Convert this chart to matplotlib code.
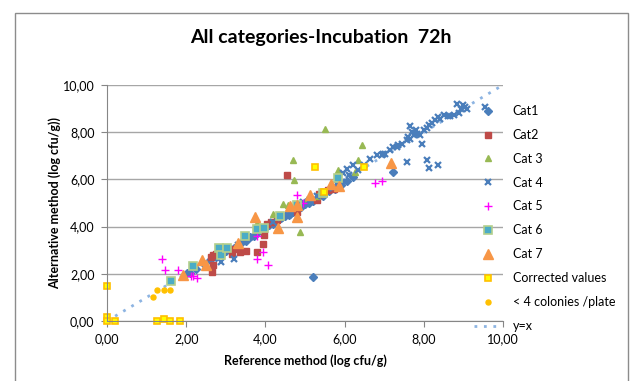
import matplotlib
matplotlib.use("Agg")
import matplotlib.pyplot as plt
from matplotlib.patches import Rectangle

plt.rcParams['font.family'] = ['Lato', 'DejaVu Sans']

# ---- data (log cfu/g): reference (x) vs alternative (y) ----
cat1_x = [2.02, 2.1, 2.25, 2.45, 2.6, 2.75, 2.9, 3.0, 3.1, 3.2, 3.3, 3.4, 3.5, 3.6, 3.7, 3.8, 3.9, 4.0,
          4.1, 4.2, 4.3, 4.4, 4.5, 4.6, 4.7, 4.8, 4.9, 5.0, 5.1, 5.2, 5.3, 5.45, 5.6, 5.75, 5.9, 6.05,
          6.2, 5.21, 7.23]
cat1_y = [2.02, 2.05, 2.2, 2.4, 2.6, 2.7, 2.85, 2.95, 3.05, 3.1, 3.2, 3.35, 3.4, 3.55, 3.6, 3.75, 3.85,
          3.95, 4.05, 4.1, 4.25, 4.35, 4.45, 4.5, 4.6, 4.75, 4.85, 4.95, 5.0, 5.1, 5.2, 5.3, 5.5, 5.6,
          5.75, 5.95, 6.1, 1.85, 6.31]

cat2_x = [2.64, 2.68, 2.62, 2.68, 2.75, 3.15, 3.19, 3.36, 3.51, 3.78, 3.95, 3.96, 4.05, 4.15, 4.55,
          4.8, 5.3, 5.36, 5.45, 5.59, 5.72, 4.3]
cat2_y = [2.08, 2.36, 2.71, 2.81, 2.85, 2.85, 3.07, 2.92, 2.95, 2.92, 3.28, 3.63, 4.13, 4.2, 6.17,
          4.62, 5.11, 5.4, 5.45, 5.54, 5.61, 4.3]

cat3_x = [3.8, 4.2, 4.45, 4.58, 4.69, 4.73, 4.87, 5.05, 5.51, 5.84, 6.26, 6.33, 6.43, 5.3]
cat3_y = [4.17, 4.55, 4.94, 4.93, 6.81, 5.96, 3.77, 5.15, 8.15, 6.41, 6.31, 6.81, 7.44, 5.3]

cat4_x = [2.88, 3.21, 3.3, 3.6, 4.2, 4.4, 4.6, 4.96, 5.1, 5.3, 5.5, 5.7, 5.8, 5.93, 5.97, 6.05, 6.1,
          6.22, 6.35, 6.5, 6.64, 6.81, 6.94, 6.98, 7.02, 7.15, 7.23, 7.32, 7.36, 7.45, 7.57, 7.6, 7.66,
          7.7, 7.74, 7.84, 7.91, 7.95, 7.66, 7.8, 8.0, 8.08, 8.12, 8.2, 8.29, 8.37, 8.41, 8.5, 8.6,
          8.67, 8.75, 8.84, 8.9, 8.95, 9.0, 9.05, 9.1, 9.55, 7.57, 8.08, 8.12, 8.37]
cat4_y = [2.5, 2.64, 3.2, 3.55, 4.2, 4.35, 4.5, 5.04, 5.1, 5.3, 5.45, 5.65, 5.8, 5.89, 6.25, 6.46, 6.17,
          6.6, 6.38, 6.6, 6.88, 7.02, 7.02, 7.09, 7.09, 7.23, 7.37, 7.37, 7.44, 7.5, 7.66, 7.8, 7.73,
          8.0, 7.87, 7.94, 7.87, 7.52, 8.26, 8.1, 8.1, 8.18, 8.29, 8.4, 8.5, 8.64, 8.57, 8.72, 8.7,
          8.69, 8.72, 9.21, 8.8, 9.0, 9.15, 9.07, 9.0, 9.07, 6.74, 6.81, 6.48, 6.6]

cat5_x = [1.38, 1.46, 1.8, 2.13, 2.16, 2.28, 3.78, 3.79, 3.95, 4.06, 4.79, 4.94, 6.77, 6.94]
cat5_y = [2.64, 2.15, 2.15, 1.91, 1.89, 1.84, 3.59, 2.64, 2.92, 2.36, 5.33, 5.0, 5.85, 5.93]

cat6_x = [1.61, 2.16, 2.83, 2.88, 3.04, 3.48, 3.78, 3.96, 4.37, 4.79, 5.46, 5.83]
cat6_y = [1.7, 2.32, 3.11, 2.78, 3.11, 3.6, 3.91, 3.94, 4.44, 4.9, 5.42, 6.06]

cat7_x = [1.91, 2.41, 2.5, 3.31, 3.74, 4.33, 4.62, 4.8, 4.8, 5.13, 5.65, 5.87, 7.17]
cat7_y = [1.94, 2.57, 2.36, 3.31, 4.41, 3.96, 4.86, 4.41, 4.9, 5.33, 5.82, 5.72, 6.69]

corr_x = [0.0, 0.01, 0.0, 0.2, 1.25, 1.45, 1.6, 1.85, 5.25, 6.49, 5.48]
corr_y = [1.5, 0.17, 0.0, 0.0, 0.0, 0.1, 0.0, 0.0, 6.53, 6.53, 5.47]

low_x = [1.16, 1.26, 1.44, 1.6]
low_y = [1.02, 1.3, 1.33, 1.33]

line_x = [0, 10]
line_y = [0, 10]

x_ticks = [0, 2, 4, 6, 8, 10]
x_tick_labels = ["0,00", "2,00", "4,00", "6,00", "8,00", "10,00"]
y_ticks = [0, 2, 4, 6, 8, 10]
y_tick_labels = ["0,00", "2,00", "4,00", "6,00", "8,00", "10,00"]

W, H = 632, 381
fig = plt.figure(figsize=(W / 100, H / 100), dpi=100)
ax = fig.add_axes([107 / W, 1 - 321 / H, (503 - 107) / W, (321 - 85) / H])

# outer chart border
fig.patches.append(Rectangle((15 / W, -0.2), (628 - 15) / W, 1.2 - 13 / H, transform=fig.transFigure,
                             fill=False, edgecolor='#8c8c8c', linewidth=1.0))

blue = '#4A7EBB'
common = dict(linestyle='none', clip_on=False)
ax.plot(cat1_x, cat1_y, marker='D', ms=3.6, color=blue, mec=blue, label='Cat1', **common)
ax.plot(cat2_x, cat2_y, marker='s', ms=4.3, color='#BE4B48', mec='#BE4B48', label='Cat2', **common)
ax.plot(cat3_x, cat3_y, marker='^', ms=4.6, color='#98B954', mec='#98B954', label='Cat 3', **common)
ax.plot(cat4_x, cat4_y, marker='x', ms=4.8, mew=1.6, color=blue, label='Cat 4', **common)
ax.plot(cat5_x, cat5_y, marker='+', ms=6, mew=1.0, color='#FF00FF', label='Cat 5', **common)
ax.plot(cat6_x, cat6_y, marker='s', ms=5.6, color='#4BACC6', mec='#B3CF8C', mew=1.2, label='Cat 6', **common)
ax.plot(cat7_x, cat7_y, marker='^', ms=7.2, color='#F79646', mec='#F79646', label='Cat 7', **common)
ax.plot(corr_x, corr_y, marker='s', ms=4.6, color='#FFFF00', mec='#FFC000', mew=1.2,
        label='Corrected values', **common)
ax.plot(low_x, low_y, marker='o', ms=3.6, color='#FFC000', mec='#FFC000', label='< 4 colonies /plate', **common)
ax.plot(line_x, line_y, linestyle=(0, (1, 2.4)), linewidth=2.0, color='#8DB4E2', label='y=x',
        clip_on=False, zorder=1)

ax.set_xlim(0, 10)
ax.set_ylim(0, 10)
ax.set_xticks(x_ticks)
ax.set_xticklabels(x_tick_labels)
ax.set_yticks(y_ticks)
ax.set_yticklabels(y_tick_labels)
ax.grid(axis='y', color='#A6A6A6', linewidth=1.0)
ax.set_axisbelow(True)
for s in ['top', 'right']:
    ax.spines[s].set_visible(False)
for s in ['left', 'bottom']:
    ax.spines[s].set_color('#868686')
ax.tick_params(axis='both', direction='out', length=4, color='#868686', labelsize=9, labelcolor='black')
ax.tick_params(axis='x', pad=5)
ax.tick_params(axis='y', pad=5)

ax.set_xlabel('Reference method (log cfu/g)', fontsize=9, fontweight='bold', labelpad=6)
ax.set_ylabel('Alternative method (log cfu/g))', fontsize=9, fontweight='bold', labelpad=1)
fig.text(321 / W, 1 - 37 / H, 'All categories-Incubation  72h', fontsize=14, fontweight='bold',
         ha='center', va='center')

leg = ax.legend(loc='upper left', bbox_to_anchor=(474 / W, 1 - 105 / H), bbox_transform=fig.transFigure,
                frameon=False, fontsize=9, handlelength=2.2, handletextpad=0.9, labelspacing=0.95,
                borderpad=0, borderaxespad=0, numpoints=1)

fig.savefig('out.png', dpi=100)
